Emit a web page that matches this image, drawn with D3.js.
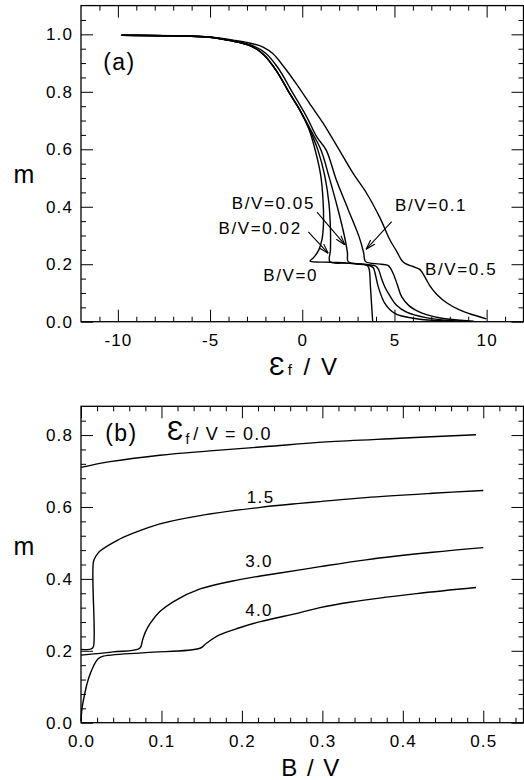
<!DOCTYPE html>
<html>
<head>
<meta charset="utf-8">
<script src="https://cdn.jsdelivr.net/npm/d3@7"></script>
<style>
body { margin: 0; background: #fff; }
svg { display: block; }
</style>
</head>
<body>
<script>
// ---- panel (a): m vs eps_f / V, one curve per B/V ----
var bulk = [[-9.8,0.997],[-7,0.995],[-5,0.990],[-3.9,0.978],[-2.8,0.960],[-2.1,0.930],[-1.4,0.873],[-0.7,0.796],[-0.1,0.733]];
var b0    = bulk.concat([[0.35,0.672],[0.69,0.600],[1.0,0.51],[1.13,0.42],[1.15,0.34],[1.08,0.29],[0.9,0.25],[0.6,0.222],[0.42,0.211],[1.5,0.207],[2.4,0.204],[3.0,0.201],[3.5,0.197],[3.62,0.185],[3.7,0.12],[3.78,0.04],[3.82,0]]);
var b002  = bulk.concat([[0.38,0.672],[0.85,0.597],[1.23,0.505],[1.45,0.41],[1.53,0.32],[1.53,0.25],[1.5,0.209],[2.4,0.204],[3.0,0.201],[3.6,0.196],[3.85,0.188],[3.98,0.16],[4.12,0.122],[4.48,0.064],[5.02,0.029],[6.0,0.012],[7.3,0.004],[8.2,0.002]]);
var b005  = bulk.concat([[0.42,0.672],[1.02,0.597],[1.45,0.505],[1.9,0.40],[2.28,0.30],[2.45,0.24],[2.49,0.209],[3.0,0.202],[3.6,0.198],[4.0,0.193],[4.15,0.18],[4.3,0.15],[4.5,0.118],[4.78,0.087],[5.1,0.058],[5.66,0.033],[6.7,0.014],[8.0,0.004],[9.0,0.001]]);
var b01   = [[-9.8,0.997],[-7,0.995],[-5,0.990],[-3.9,0.979],[-2.8,0.963],[-2.0,0.935],[-1.3,0.882],[-0.55,0.80],[0.24,0.713],[0.78,0.644],[1.3,0.597],[1.85,0.493],[2.5,0.389],[3.08,0.296],[3.33,0.24],[3.42,0.21],[3.8,0.203],[4.3,0.200],[4.65,0.196],[4.8,0.185],[4.95,0.165],[5.15,0.13],[5.39,0.087],[5.8,0.055],[6.5,0.03],[7.5,0.013],[8.6,0.005],[9.3,0.002]];
var b05   = [[-9.8,0.997],[-7,0.995],[-5,0.991],[-3.74,0.980],[-2.8,0.969],[-2.1,0.955],[-1.6,0.933],[-1.03,0.89],[-0.3,0.826],[0.5,0.75],[1.14,0.69],[1.9,0.609],[2.76,0.516],[3.49,0.447],[4.21,0.362],[4.75,0.285],[5.12,0.245],[5.4,0.213],[5.6,0.202],[6.0,0.192],[6.35,0.183],[6.5,0.172],[6.7,0.15],[6.95,0.122],[7.3,0.095],[7.85,0.065],[8.5,0.042],[9.2,0.025],[9.99,0.01]];

var aXTicks = [-10, -5, 0, 5, 10];
var aYTicks = [0, 0.2, 0.4, 0.6, 0.8, 1.0];
// curve labels: text, x, y, anchor
var aLabels = [["B/V=0.05", 0.69, 0.391, "end"], ["B/V=0.02", -0.03, 0.305, "end"],
               ["B/V=0.1", 5.03, 0.386, "start"], ["B/V=0", -2.11, 0.143, "start"],
               ["B/V=0.5", 6.66, 0.162, "start"]];
// arrows: from [x,y] to [x,y]
var aArrows = [[[0.80,0.381],[2.32,0.267]], [[0.33,0.313],[1.41,0.238]], [[4.85,0.348],[3.46,0.252]]];

// ---- panel (b): m vs B / V, one curve per eps_f / V ----
var e00 = [[0,0.710],[0.036,0.726],[0.098,0.744],[0.16,0.756],[0.23,0.768],[0.305,0.781],[0.396,0.791],[0.491,0.801]];
var e15 = [[0,0.204],[0.013,0.205],[0.0155,0.212],[0.0155,0.448],[0.019,0.465],[0.024,0.478],[0.044,0.506],[0.065,0.527],[0.098,0.553],[0.148,0.576],[0.223,0.599],[0.272,0.610],[0.297,0.615],[0.354,0.626],[0.437,0.638],[0.5,0.646]];
var e30 = [[0,0.188],[0.04,0.197],[0.073,0.207],[0.0765,0.23],[0.08,0.252],[0.086,0.276],[0.098,0.309],[0.115,0.337],[0.148,0.372],[0.197,0.398],[0.223,0.408],[0.272,0.425],[0.297,0.434],[0.354,0.453],[0.437,0.474],[0.5,0.487]];
var e40 = [[0,0.005],[0.001,0.035],[0.003,0.063],[0.009,0.12],[0.015,0.155],[0.021,0.177],[0.026,0.184],[0.08,0.195],[0.148,0.207],[0.156,0.221],[0.172,0.244],[0.197,0.264],[0.223,0.281],[0.272,0.306],[0.297,0.320],[0.334,0.335],[0.417,0.359],[0.491,0.376]];

var bXTicks = [0, 0.1, 0.2, 0.3, 0.4, 0.5];
var bYTicks = [0, 0.2, 0.4, 0.6, 0.8];
var bLabels = [["1.5", 0.206, 0.611], ["3.0", 0.204, 0.432], ["4.0", 0.204, 0.297]];

var font = "'Liberation Sans', Arial, Helvetica, sans-serif";
var EPS = "\u0190";

var svg = d3.select("body").append("svg")
    .attr("width", 524)
    .attr("height", 780)
    .attr("font-family", font);

svg.append("defs").append("marker")
    .attr("id", "arr")
    .attr("viewBox", "0 -4 10 8")
    .attr("refX", 10).attr("refY", 0)
    .attr("markerWidth", 10).attr("markerHeight", 8)
    .attr("markerUnits", "userSpaceOnUse")
    .attr("orient", "auto")
    .append("path")
    .attr("d", "M0,-3L10,0L0,3")
    .attr("fill", "none")
    .attr("stroke", "#000")
    .attr("stroke-width", 1.1);

var left = 81, right = 523.5;

function frame(x, y, xMajor, xMinor, yMajor, yMinor, xFmt, yFmt) {
  var top = y.range()[1], bottom = y.range()[0];

  function style(g) {
    g.select(".domain").remove();
    g.attr("font-size", 17).attr("font-family", font);
    g.selectAll("text").attr("fill", "#000").attr("letter-spacing", 1.1);
    g.selectAll("line").attr("stroke", "#000").attr("stroke-width", 1);
  }

  svg.append("g").attr("transform", "translate(0," + bottom + ")")
    .call(d3.axisBottom(x).tickValues(xMajor).tickSize(-12).tickSizeOuter(0).tickPadding(12).tickFormat(xFmt)).call(style);
  svg.append("g").attr("transform", "translate(0," + bottom + ")")
    .call(d3.axisBottom(x).tickValues(xMinor).tickSize(-5).tickSizeOuter(0).tickFormat("")).call(style);
  svg.append("g").attr("transform", "translate(0," + top + ")")
    .call(d3.axisTop(x).tickValues(xMajor).tickSize(-12).tickSizeOuter(0).tickFormat("")).call(style);
  svg.append("g").attr("transform", "translate(0," + top + ")")
    .call(d3.axisTop(x).tickValues(xMinor).tickSize(-5).tickSizeOuter(0).tickFormat("")).call(style);

  svg.append("g").attr("transform", "translate(" + left + ",0)")
    .call(d3.axisLeft(y).tickValues(yMajor).tickSize(-12).tickSizeOuter(0).tickPadding(8).tickFormat(yFmt)).call(style);
  svg.append("g").attr("transform", "translate(" + left + ",0)")
    .call(d3.axisLeft(y).tickValues(yMinor).tickSize(-5).tickSizeOuter(0).tickFormat("")).call(style);
  svg.append("g").attr("transform", "translate(" + right + ",0)")
    .call(d3.axisRight(y).tickValues(yMajor).tickSize(-12).tickSizeOuter(0).tickFormat("")).call(style);
  svg.append("g").attr("transform", "translate(" + right + ",0)")
    .call(d3.axisRight(y).tickValues(yMinor).tickSize(-5).tickSizeOuter(0).tickFormat("")).call(style);

  svg.append("rect")
    .attr("x", left).attr("y", top)
    .attr("width", right - left).attr("height", bottom - top)
    .attr("fill", "none").attr("stroke", "#000").attr("stroke-width", 1.3);
}

function curves(x, y, list) {
  var line = d3.line()
    .x(function(d) { return x(d[0]); })
    .y(function(d) { return y(d[1]); })
    .curve(d3.curveCatmullRom.alpha(0.5));
  svg.append("g").selectAll("path")
    .data(list)
    .join("path")
    .attr("d", line)
    .attr("fill", "none")
    .attr("stroke", "#000")
    .attr("stroke-width", 1.4)
    .attr("stroke-linejoin", "round");
}

// ---------- panel (a) ----------
var xa = d3.scaleLinear().domain([-12, 12]).range([left, right]);
var ya = d3.scaleLinear().domain([0, 1.1]).range([321.7, 5.6]);

frame(xa, ya, aXTicks, d3.range(-11, 12, 1).filter(function(v) { return v % 5 !== 0; }),
      aYTicks, d3.range(0.05, 1.1, 0.05).filter(function(v) { return Math.abs(v * 5 - Math.round(v * 5)) > 1e-6; }),
      function(d) { return String(d); }, d3.format(".1f"));

curves(xa, ya, [b0, b002, b005, b01, b05]);

svg.append("g").selectAll("text")
  .data(aLabels)
  .join("text")
  .attr("x", function(d) { return xa(d[1]); })
  .attr("y", function(d) { return ya(d[2]); })
  .attr("text-anchor", function(d) { return d[3]; })
  .attr("font-size", 17)
  .attr("letter-spacing", 1.6)
  .text(function(d) { return d[0]; });

svg.append("g").selectAll("line")
  .data(aArrows)
  .join("line")
  .attr("x1", function(d) { return xa(d[0][0]); })
  .attr("y1", function(d) { return ya(d[0][1]); })
  .attr("x2", function(d) { return xa(d[1][0]); })
  .attr("y2", function(d) { return ya(d[1][1]); })
  .attr("stroke", "#000")
  .attr("stroke-width", 1.1)
  .attr("marker-end", "url(#arr)");

svg.append("text").attr("x", xa(-10.8)).attr("y", ya(0.876))
  .attr("font-size", 23).attr("letter-spacing", 1.5).text("(a)");

svg.append("text").attr("x", 24).attr("y", ya(0.483))
  .attr("text-anchor", "middle").attr("font-size", 25).text("m");

var xt = svg.append("text").attr("x", 304).attr("y", 375)
  .attr("text-anchor", "middle").attr("font-size", 24);
xt.append("tspan").attr("font-size", 26).text(EPS);
xt.append("tspan").attr("font-size", 15).attr("dx", 3).text("f");
xt.append("tspan").attr("font-size", 24).attr("letter-spacing", 2).attr("dx", 3).text(" / V");

// ---------- panel (b) ----------
var xb = d3.scaleLinear().domain([0, 0.55]).range([left, right]);
var yb = d3.scaleLinear().domain([0, 0.88]).range([722.7, 406.3]);

frame(xb, yb, bXTicks, d3.range(0.02, 0.55, 0.02).filter(function(v) { return Math.abs(v * 10 - Math.round(v * 10)) > 1e-6; }),
      bYTicks, d3.range(0.04, 0.88, 0.04).filter(function(v) { return Math.abs(v * 5 - Math.round(v * 5)) > 1e-6; }),
      d3.format(".1f"), d3.format(".1f"));

curves(xb, yb, [e00, e15, e30, e40]);

svg.append("g").selectAll("text")
  .data(bLabels)
  .join("text")
  .attr("x", function(d) { return xb(d[1]); })
  .attr("y", function(d) { return yb(d[2]); })
  .attr("font-size", 17)
  .attr("letter-spacing", 1.4)
  .text(function(d) { return d[0]; });

svg.append("text").attr("x", xb(0.030)).attr("y", yb(0.784))
  .attr("font-size", 23).attr("letter-spacing", 1.5).text("(b)");

var et = svg.append("text").attr("x", xb(0.107)).attr("y", yb(0.786)).attr("font-size", 18);
et.append("tspan").attr("font-size", 27).text(EPS);
et.append("tspan").attr("font-size", 14).attr("dx", 2).attr("dy", 4).text("f");
et.append("tspan").attr("font-size", 18).attr("letter-spacing", 1.2).attr("dx", 4).attr("dy", -4).text("/ V = 0.0");

svg.append("text").attr("x", 24).attr("y", yb(0.466))
  .attr("text-anchor", "middle").attr("font-size", 25).text("m");

svg.append("text").attr("x", 311).attr("y", 776)
  .attr("text-anchor", "middle").attr("font-size", 24).attr("letter-spacing", 1.5).text("B / V");
</script>
</body>
</html>
